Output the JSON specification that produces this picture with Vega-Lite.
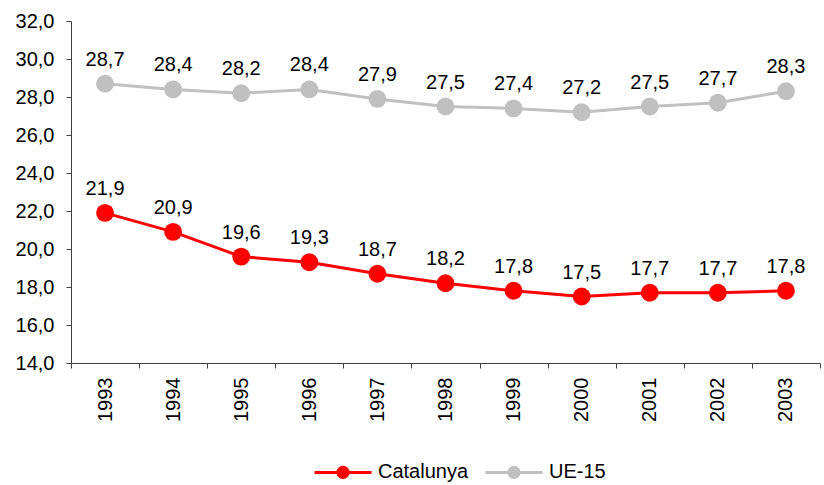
{
  "$schema": "https://vega.github.io/schema/vega-lite/v6.json",
  "width": 749,
  "height": 342,
  "autosize": {"type": "none"},
  "padding": {"left": 71, "top": 21, "right": 4, "bottom": 122},
  "background": "white",
  "config": {
    "locale": {"number": {"decimal": ",", "thousands": ".", "grouping": [3], "currency": ["", "€"]}},
    "view": {"stroke": null},
    "font": "Liberation Sans"
  },
  "data": {
    "values": [
      {"year": "1993", "series": "Catalunya", "value": 21.9},
      {"year": "1994", "series": "Catalunya", "value": 20.9},
      {"year": "1995", "series": "Catalunya", "value": 19.6},
      {"year": "1996", "series": "Catalunya", "value": 19.3},
      {"year": "1997", "series": "Catalunya", "value": 18.7},
      {"year": "1998", "series": "Catalunya", "value": 18.2},
      {"year": "1999", "series": "Catalunya", "value": 17.8},
      {"year": "2000", "series": "Catalunya", "value": 17.5},
      {"year": "2001", "series": "Catalunya", "value": 17.7},
      {"year": "2002", "series": "Catalunya", "value": 17.7},
      {"year": "2003", "series": "Catalunya", "value": 17.8},
      {"year": "1993", "series": "UE-15", "value": 28.7},
      {"year": "1994", "series": "UE-15", "value": 28.4},
      {"year": "1995", "series": "UE-15", "value": 28.2},
      {"year": "1996", "series": "UE-15", "value": 28.4},
      {"year": "1997", "series": "UE-15", "value": 27.9},
      {"year": "1998", "series": "UE-15", "value": 27.5},
      {"year": "1999", "series": "UE-15", "value": 27.4},
      {"year": "2000", "series": "UE-15", "value": 27.2},
      {"year": "2001", "series": "UE-15", "value": 27.5},
      {"year": "2002", "series": "UE-15", "value": 27.7},
      {"year": "2003", "series": "UE-15", "value": 28.3}
    ]
  },
  "encoding": {
    "x": {
      "field": "year", "type": "ordinal",
      "scale": {"type": "band", "paddingInner": 0, "paddingOuter": 0},
      "axis": {"title": null, "labelAngle": -90, "tickBand": "extent", "labelFontSize": 20, "labelColor": "black",
               "domainColor": "#404040", "tickColor": "#404040", "tickSize": 5, "labelPadding": 9, "grid": false}
    },
    "y": {
      "field": "value", "type": "quantitative",
      "scale": {"domain": [14, 32], "nice": false, "zero": false},
      "axis": {"title": null, "values": [14, 16, 18, 20, 22, 24, 26, 28, 30, 32], "format": ".1f", "labelFontSize": 20,
               "labelColor": "black", "domainColor": "#404040", "tickColor": "#404040", "grid": false, "tickSize": 5, "labelPadding": 12}
    },
    "color": {
      "field": "series", "type": "nominal",
      "scale": {"domain": ["Catalunya", "UE-15"], "range": ["#FF0000", "#C0C0C0"]},
      "legend": {
        "orient": "none", "legendX": 242, "legendY": 421, "direction": "horizontal", "title": null,
        "symbolType": "M-1,0H1M-0.18,0A0.18,0.18 0 1,0 0.18,0A0.18,0.18 0 1,0 -0.18,0",
        "symbolSize": 3249, "symbolStrokeWidth": 3, "labelFontSize": 20, "labelColor": "black",
        "labelOffset": 5, "columnPadding": 10,
        "encode": {"symbols": {"update": {"fill": {"scale": "color", "field": "value"}, "stroke": {"scale": "color", "field": "value"}, "opacity": {"value": 1}}}}
      }
    }
  },
  "layer": [
    {"mark": {"type": "line", "strokeWidth": 3}},
    {"mark": {"type": "point", "filled": true, "size": 320, "opacity": 1}},
    {
      "mark": {"type": "text", "dy": -24, "fontSize": 20},
      "encoding": {"text": {"field": "value", "type": "quantitative", "format": ".1f"}, "color": {"value": "black"}}
    }
  ]
}
